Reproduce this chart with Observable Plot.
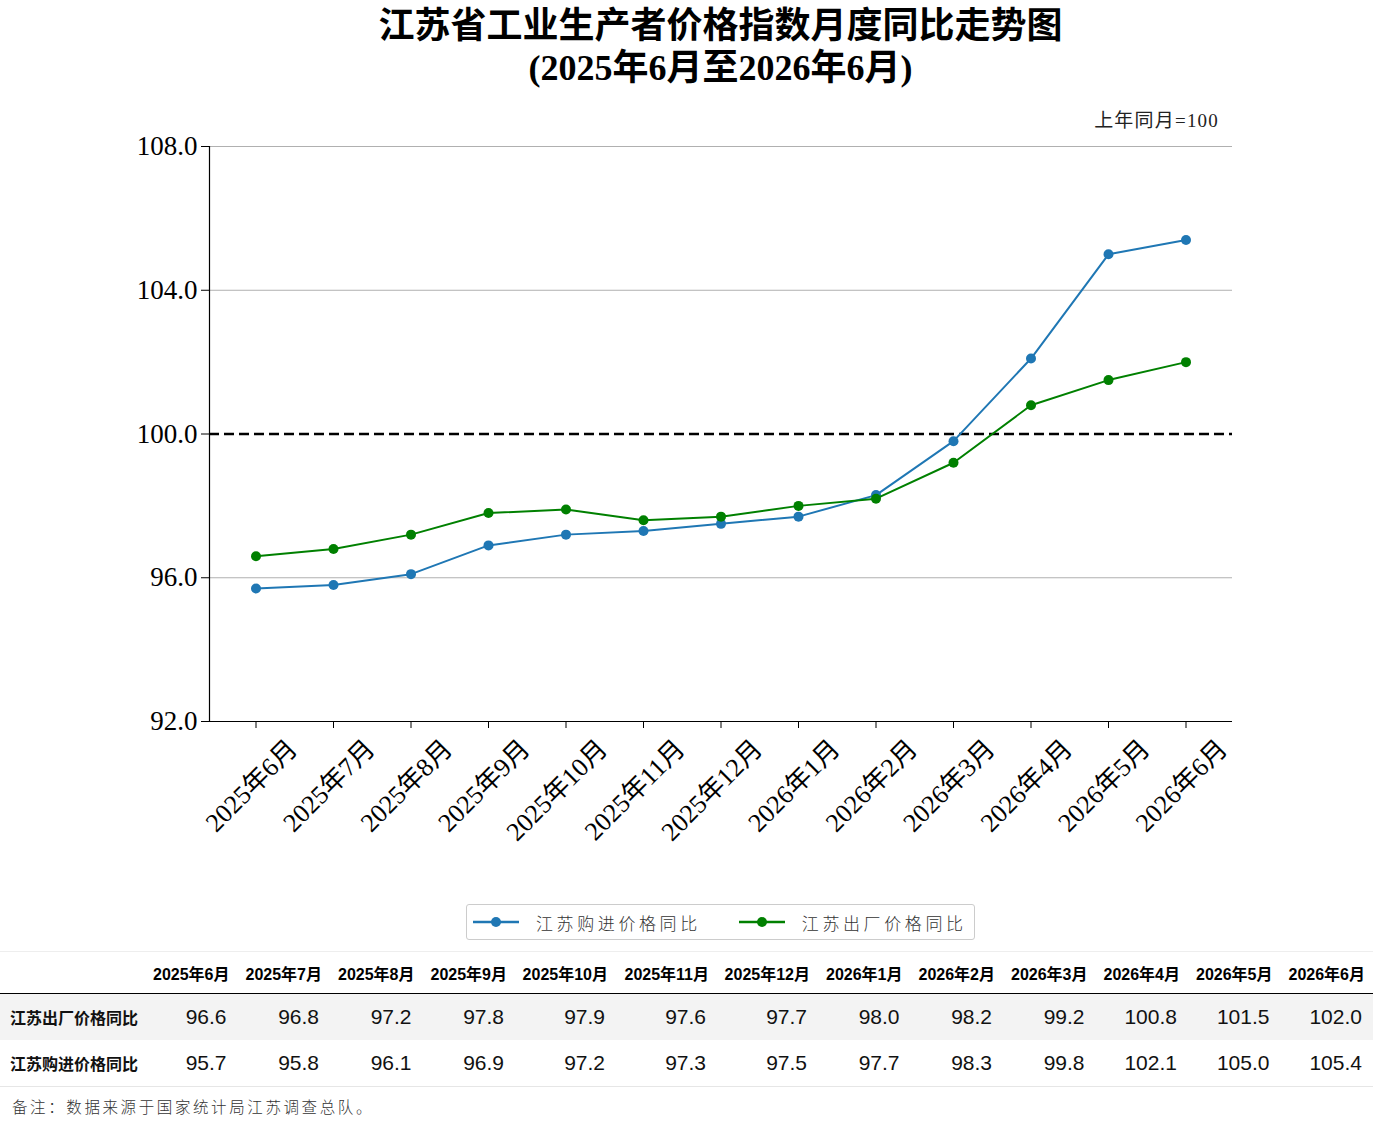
<!DOCTYPE html>
<html>
<head>
<meta charset="utf-8">
<script src="https://cdn.jsdelivr.net/npm/d3@7"></script>
<script src="https://cdn.jsdelivr.net/npm/@observablehq/plot@0.6"></script>
<style>
  html, body { margin: 0; padding: 0; background: #fff; }
  #wrap { position: relative; width: 1374px; height: 1137px; overflow: hidden; }
  .title { position: absolute; left: 0; width: 1441px; text-align: center; font-family: "Liberation Serif", "Noto Sans CJK SC", serif; font-weight: bold; font-size: 36px; line-height: 42px; color: #000; z-index: 2; white-space: nowrap; }
  .unit { position: absolute; right: 155px; top: 105px; font-family: "Liberation Serif", "Noto Sans CJK SC", serif; font-size: 19px; letter-spacing: 1.2px; color: #222; z-index: 2; }
  #chart { position: absolute; top: 100px; left: 0; z-index: 1; }
  #legend { position: absolute; top: 904px; left: 466px; width: 509px; height: 36px; border: 1px solid #ccc; border-radius: 3px; box-sizing: border-box; display: flex; align-items: center; font-family: "Noto Sans CJK SC", sans-serif; font-weight: 300; font-size: 17px; letter-spacing: 3.6px; color: #333; white-space: nowrap; }
  #legend .item { display: flex; align-items: center; }
  #legend svg { display: block; }
  table { position: absolute; top: 951px; left: 0; border-collapse: collapse; table-layout: fixed; width: 1373px; font-family: "Liberation Sans", "Noto Sans CJK SC", sans-serif; }
  th { font-weight: bold; font-size: 16px; height: 41px; text-align: right; padding: 0 8px 0 0; border-bottom: 1.5px solid #000; border-top: 1px solid #eee; white-space: nowrap; }
  td { font-size: 21px; height: 46px; text-align: right; padding: 0 11px 0 0; white-space: nowrap; color: #111; }
  td.lab { text-align: left; font-size: 16px; font-weight: bold; padding-left: 10px; }
  tr.r1 td { background: #f3f3f3; }
  tr.r2 td { border-bottom: 1px solid #e6e6e6; }
  .note { position: absolute; top: 1095px; left: 12px; font-family: "Noto Sans CJK SC", sans-serif; font-weight: 300; font-size: 15.5px; letter-spacing: 2.6px; color: #333; }
</style>
</head>
<body>
<div id="wrap">
  <div class="title" style="top:5px;">江苏省工业生产者价格指数月度同比走势图</div>
  <div class="title" style="top:47px;">(2025年6月至2026年6月)</div>
  <div class="unit">上年同月=100</div>
  <div id="chart"></div>
  <div id="legend"></div>
  <table id="tbl"></table>
  <div class="note">备注：数据来源于国家统计局江苏调查总队。</div>
</div>
<script>
const months = ["2025年6月","2025年7月","2025年8月","2025年9月","2025年10月","2025年11月","2025年12月","2026年1月","2026年2月","2026年3月","2026年4月","2026年5月","2026年6月"];
const outPrice = [96.6, 96.8, 97.2, 97.8, 97.9, 97.6, 97.7, 98.0, 98.2, 99.2, 100.8, 101.5, 102.0];
const inPrice  = [95.7, 95.8, 96.1, 96.9, 97.2, 97.3, 97.5, 97.7, 98.3, 99.8, 102.1, 105.0, 105.4];
const yTicks = [92, 96, 100, 104, 108];
const seriesNames = ["江苏购进价格同比", "江苏出厂价格同比"];
const seriesColors = ["#1f77b4", "#008000"];
const rowNames = ["江苏出厂价格同比", "江苏购进价格同比"];
const refLine = 100;

const inData = months.map((m, i) => ({month: m, value: inPrice[i]}));
const outData = months.map((m, i) => ({month: m, value: outPrice[i]}));

const serif = "'Liberation Serif', 'Noto Sans CJK SC', serif";

const chart = Plot.plot({
  width: 1374,
  height: 780,
  marginLeft: 209,
  marginRight: 142,
  marginTop: 46,
  marginBottom: 159,
  style: {fontFamily: serif, background: "white", color: "#000"},
  x: {type: "point", domain: months, padding: 0.6, round: false, label: null},
  y: {domain: [92, 108], label: null},
  marks: [
    Plot.gridY(yTicks.filter(t => t !== refLine && t !== 92), {stroke: "#b0b0b0", strokeOpacity: 1, strokeWidth: 1}),
    Plot.ruleY([92], {stroke: "#000", strokeWidth: 1.2}),
    Plot.frame({anchor: "left", stroke: "#000", strokeWidth: 1.2}),
    Plot.axisY({ticks: yTicks, tickFormat: d => d.toFixed(1), tickSize: 8, tickPadding: 4, fontSize: 27, label: null}),
    Plot.axisX({tickSize: 7, tickFormat: () => "", label: null}),
    Plot.text(months, {x: d => d, text: d => d, frameAnchor: "bottom", rotate: -45, textAnchor: "end", lineAnchor: "middle", dx: 37, dy: 23, fontSize: 26, fill: "#000"}),
    Plot.ruleY([refLine], {stroke: "#000", strokeWidth: 2.6, strokeDasharray: "10,5"}),
    Plot.line(inData, {x: "month", y: "value", stroke: seriesColors[0], strokeWidth: 2}),
    Plot.dot(inData, {x: "month", y: "value", fill: seriesColors[0], r: 5}),
    Plot.line(outData, {x: "month", y: "value", stroke: seriesColors[1], strokeWidth: 2}),
    Plot.dot(outData, {x: "month", y: "value", fill: seriesColors[1], r: 5})
  ]
});
document.getElementById("chart").appendChild(chart);

// Legend
const legend = document.getElementById("legend");
seriesNames.forEach((name, i) => {
  const item = document.createElement("div");
  item.className = "item";
  item.style.marginLeft = i === 0 ? "6px" : "38px";
  item.innerHTML = `<svg width="46" height="14"><line x1="0" y1="7" x2="46" y2="7" stroke="${seriesColors[i]}" stroke-width="2.5"/><circle cx="23" cy="7" r="5" fill="${seriesColors[i]}"/></svg><span style="margin-left:17px">${name}</span>`;
  legend.appendChild(item);
});

// Table
const tbl = document.getElementById("tbl");
const colWidths = months.map(m => /1[0-2]月$/.test(m) ? 101 : 92.5);
let html = `<colgroup><col style="width:145px">${colWidths.map(w => `<col style="width:${w}px">`).join("")}</colgroup>`;
html += `<tr><th></th>${months.map(m => `<th>${m}</th>`).join("")}</tr>`;
const rows = [outPrice, inPrice];
rows.forEach((vals, r) => {
  html += `<tr class="r${r + 1}"><td class="lab">${rowNames[r]}</td>${vals.map(v => `<td>${v.toFixed(1)}</td>`).join("")}</tr>`;
});
tbl.innerHTML = html;
</script>
</body>
</html>
